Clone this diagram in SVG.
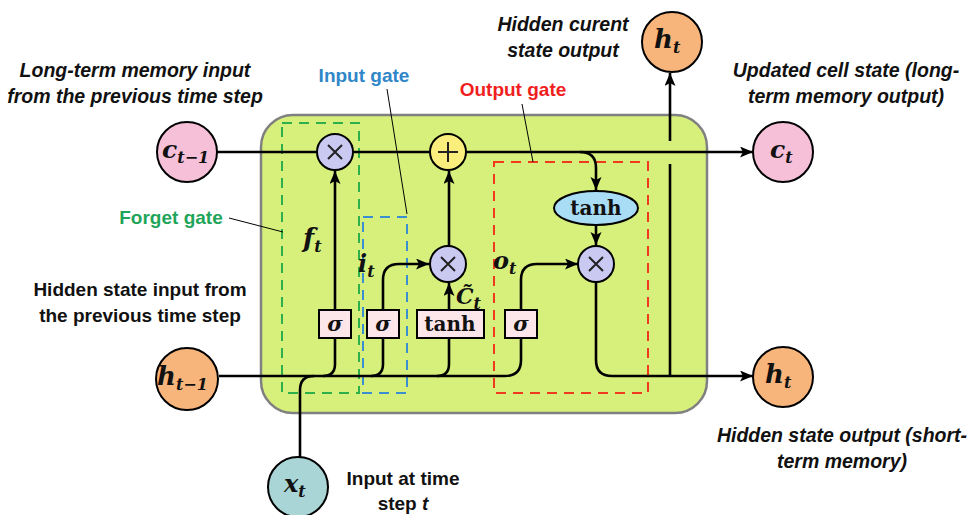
<svg xmlns="http://www.w3.org/2000/svg" width="971" height="515" viewBox="0 0 971 515">
<defs>
<marker id="arr" markerWidth="14" markerHeight="12" refX="13" refY="5.5" orient="auto" markerUnits="userSpaceOnUse">
<path d="M0,0 L13,5.5 L0,11 L3,5.5 z" fill="#000"/>
</marker>
<style>
.ln{fill:none;stroke:#000;stroke-width:2.6}
.lead{fill:none;stroke:#000;stroke-width:1}
.ann{font-family:"Liberation Sans",Arial,sans-serif;font-weight:bold;font-style:italic;font-size:19.5px;fill:#111;text-anchor:middle}
.annr{font-family:"Liberation Sans",Arial,sans-serif;font-weight:bold;font-size:19px;fill:#111;text-anchor:middle}
.gate{font-family:"Liberation Sans",Arial,sans-serif;font-weight:bold;font-size:19px;text-anchor:middle}
.math{font-family:"DejaVu Serif","Liberation Serif",serif;font-weight:bold;font-style:italic;fill:#111}
.rm{font-family:"DejaVu Serif","Liberation Serif",serif;font-weight:bold;fill:#111}
.op{stroke:#000;stroke-width:2}
.sym{stroke:#222;stroke-width:2;fill:none}
.sig{fill:#fde6ea;stroke:#000;stroke-width:2}
</style>
</defs>
<rect width="971" height="515" fill="#fff"/>

<g id="cell">
<rect x="261" y="115" width="446" height="298" rx="32" ry="32" fill="#d7f07c" stroke="#808080" stroke-width="2.5"/>
</g>

<g id="gates">
<rect id="forget-box" x="282" y="123" width="77" height="270" fill="none" stroke="#2db04b" stroke-width="2" stroke-dasharray="10,7"/>
<rect id="input-box" x="363" y="217" width="44" height="176" fill="none" stroke="#3a8fd0" stroke-width="2" stroke-dasharray="10,7"/>
<rect id="output-box" x="494" y="162" width="154" height="231" fill="none" stroke="#f03a20" stroke-width="2" stroke-dasharray="10,7"/>
</g>

<g id="connectors">
<path class="ln" d="M217,152 L753,152" marker-end="url(#arr)"/>
<path class="ln" d="M580,152 Q596,152 596,168 L596,190" marker-end="url(#arr)"/>
<path class="ln" d="M219,376 L505,376 Q521,376 521,360 L521,338"/>
<path class="ln" d="M323,376 Q335,376 335,364 L335,338"/>
<path class="ln" d="M371,376 Q383,376 383,364 L383,338"/>
<path class="ln" d="M437,376 Q449,376 449,364 L449,338"/>
<path class="ln" d="M300,457 L300,390 Q300,376 314,376"/>
<path class="ln" d="M335,310 L335,171" marker-end="url(#arr)"/>
<path class="ln" d="M383,310 L383,280 Q383,264 399,264 L429,264" marker-end="url(#arr)"/>
<path class="ln" d="M449,310 L449,283" marker-end="url(#arr)"/>
<path class="ln" d="M449,246 L449,171" marker-end="url(#arr)"/>
<path class="ln" d="M521,310 L521,280 Q521,264 537,264 L578,264" marker-end="url(#arr)"/>
<path class="ln" d="M596,225 L596,245" marker-end="url(#arr)"/>
<path class="ln" d="M596,282 L596,360 Q596,376 612,376 L753,376" marker-end="url(#arr)"/>
<path class="ln" d="M670,376 L670,164"/>
<path class="ln" d="M670,141 L670,73" marker-end="url(#arr)"/>
<path class="lead" d="M387,89 L407,214"/>
<path class="lead" d="M522,104 L533,162"/>
<path class="lead" d="M229,218 L283,232"/>
</g>

<g id="c_prev">
<circle cx="187" cy="152" r="30" fill="#f5c0d8" stroke="#000" stroke-width="2"/>
<text class="math" x="162" y="158" font-size="25">c<tspan font-size="16" dy="5">t−1</tspan></text>
</g>
<g id="h_prev">
<circle cx="187" cy="379" r="31" fill="#f8b57b" stroke="#000" stroke-width="2"/>
<text class="math" x="157" y="385" font-size="26">h<tspan font-size="16" dy="5">t−1</tspan></text>
</g>
<g id="x_t">
<circle cx="298" cy="487" r="30" fill="#a9d5d6" stroke="#000" stroke-width="2"/>
<text class="math" x="284" y="492" font-size="24">x<tspan font-size="16" dy="5">t</tspan></text>
</g>
<g id="c_t">
<circle cx="783" cy="152" r="30" fill="#f5c0d8" stroke="#000" stroke-width="2"/>
<text class="math" x="770" y="158" font-size="25">c<tspan font-size="16" dy="5">t</tspan></text>
</g>
<g id="h_t_top">
<circle cx="672" cy="42" r="30" fill="#f8b57b" stroke="#000" stroke-width="2"/>
<text class="math" x="654" y="48" font-size="26">h<tspan font-size="16" dy="5">t</tspan></text>
</g>
<g id="h_t_right">
<circle cx="783" cy="377" r="30" fill="#f8b57b" stroke="#000" stroke-width="2"/>
<text class="math" x="765" y="383" font-size="26">h<tspan font-size="16" dy="5">t</tspan></text>
</g>

<g id="mul_forget">
<circle cx="335" cy="152" r="18" fill="#c9c9f2" class="op"/>
<path class="sym" d="M328,145 L342,159 M342,145 L328,159"/>
</g>
<g id="add">
<circle cx="448" cy="152" r="18" fill="#fbee7c" class="op"/>
<path class="sym" d="M448,142 L448,162 M438,152 L458,152"/>
</g>
<g id="mul_input">
<circle cx="448" cy="264" r="18" fill="#c9c9f2" class="op"/>
<path class="sym" d="M441,257 L455,271 M455,257 L441,271"/>
</g>
<g id="mul_output">
<circle cx="596" cy="264" r="18" fill="#c9c9f2" class="op"/>
<path class="sym" d="M589,257 L603,271 M603,257 L589,271"/>
</g>
<g id="tanh_out">
<ellipse cx="596" cy="208" rx="42" ry="17" fill="#a9dcf5" stroke="#000" stroke-width="2"/>
<text class="rm" x="596" y="215" font-size="20" text-anchor="middle">tanh</text>
</g>

<g id="sigma_f">
<rect class="sig" x="319" y="310" width="32" height="28"/>
<text class="math" x="335" y="331" font-size="21" text-anchor="middle">σ</text>
</g>
<g id="sigma_i">
<rect class="sig" x="367" y="310" width="32" height="28"/>
<text class="math" x="383" y="331" font-size="21" text-anchor="middle">σ</text>
</g>
<g id="tanh_in">
<rect class="sig" x="417" y="310" width="67" height="28"/>
<text class="rm" x="450" y="331" font-size="20" text-anchor="middle">tanh</text>
</g>
<g id="sigma_o">
<rect class="sig" x="505" y="310" width="32" height="28"/>
<text class="math" x="521" y="331" font-size="21" text-anchor="middle">σ</text>
</g>

<g id="labels">
<text class="math" x="303" y="247" font-size="26">f<tspan font-size="16" dy="5">t</tspan></text>
<text class="math" x="358" y="272" font-size="24">i<tspan font-size="16" dy="5">t</tspan></text>
<text class="math" x="456" y="304" font-size="22">C̃<tspan font-size="16" dy="5">t</tspan></text>
<text class="math" x="493" y="269" font-size="24">o<tspan font-size="16" dy="5">t</tspan></text>
</g>

<g id="annotations">
<text class="ann" x="135" y="77">Long-term memory input</text>
<text class="ann" x="135" y="103">from the previous time step</text>
<text class="gate" x="364" y="82" fill="#2f86c8">Input gate</text>
<text class="gate" x="513" y="96" fill="#f01e1e">Output gate</text>
<text class="gate" x="171" y="224" fill="#1fa55a">Forget gate</text>
<text class="annr" x="140" y="296">Hidden state input from</text>
<text class="annr" x="140" y="322">the previous time step</text>
<text class="ann" x="563" y="31">Hidden curent</text>
<text class="ann" x="563" y="57">state output</text>
<text class="ann" x="846" y="77">Updated cell state (long-</text>
<text class="ann" x="846" y="103">term memory output)</text>
<text class="ann" x="842" y="442">Hidden state output (short-</text>
<text class="ann" x="842" y="468">term memory)</text>
<text class="annr" x="403" y="485">Input at time</text>
<text class="annr" x="403" y="510">step <tspan font-style="italic">t</tspan></text>
</g>
</svg>
